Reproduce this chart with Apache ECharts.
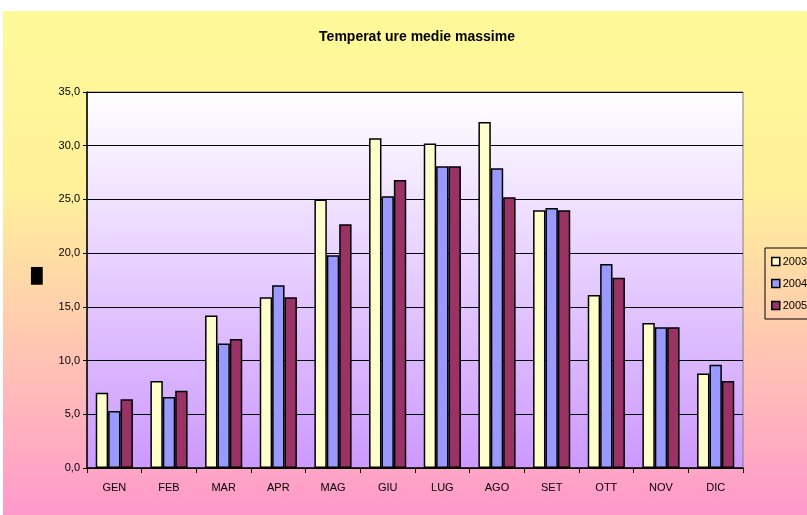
<!DOCTYPE html>
<html>
<head>
<meta charset="utf-8">
<script src="https://cdn.jsdelivr.net/npm/echarts@6/dist/echarts.min.js"></script>
<style>
  html, body { margin: 0; padding: 0; background: #fff; }
  #chart { width: 807px; height: 515px; }
</style>
</head>
<body>
<div id="chart"></div>
<script>
// mesi
const months = ['GEN', 'FEB', 'MAR', 'APR', 'MAG', 'GIU', 'LUG', 'AGO', 'SET', 'OTT', 'NOV', 'DIC'];
// temperature medie massime per anno
const t2003 = [7.0, 8.1, 14.2, 15.9, 25.0, 30.7, 30.2, 32.2, 24.0, 16.1, 13.5, 8.8];
const t2004 = [5.3, 6.6, 11.6, 17.0, 19.8, 25.3, 28.1, 27.9, 24.2, 19.0, 13.1, 9.6];
const t2005 = [6.4, 7.2, 12.0, 15.9, 22.7, 26.8, 28.1, 25.2, 24.0, 17.7, 13.1, 8.1];
const years = ['2003', '2004', '2005'];
const colors = ['#FFFFCC', '#9999FF', '#993366'];

const chart = echarts.init(document.getElementById('chart'));

const makeSeries = (name, data, color) => ({
  name: name,
  type: 'bar',
  data: data,
  barGap: '0%',
  barCategoryGap: '32%',
  itemStyle: { color: color, borderColor: '#000', borderWidth: 1.5 },
  emphasis: { disabled: true }
});

chart.setOption({
  animation: false,
  graphic: [
    {
      type: 'rect',
      z: -10,
      shape: { x: 3, y: 11, width: 804, height: 504 },
      style: {
        fill: new echarts.graphic.LinearGradient(0, 0, 0, 1, [
          { offset: 0, color: '#FFFA99' },
          { offset: 0.35, color: '#FFF199' },
          { offset: 1, color: '#FF99CC' }
        ])
      }
    },
    {
      type: 'text',
      left: 31,
      top: 270,
      style: { text: '█', fontSize: 15, fill: '#000', fontFamily: 'DejaVu Sans' }
    }
  ],
  title: {
    text: 'Temperat ure medie massime',
    left: 412,
    textAlign: 'center',
    top: 25,
    textStyle: { fontFamily: 'Liberation Sans', fontSize: 14, fontWeight: 'bold', color: '#000' }
  },
  legend: {
    data: years,
    orient: 'vertical',
    left: 765,
    top: 248,
    itemWidth: 8,
    itemHeight: 8,
    itemGap: 11,
    padding: [8, 10, 8, 6],
    borderColor: '#000',
    borderWidth: 1,
    icon: 'rect',
    textStyle: { fontFamily: 'Liberation Sans', fontSize: 11, color: '#000', padding: [0, 0, 0, -2] },
    itemStyle: { borderColor: '#000', borderWidth: 1.5 }
  },
  grid: {
    left: 87,
    right: 64,
    top: 92,
    bottom: 47,
    show: true,
    borderColor: '#808080',
    borderWidth: 1,
    backgroundColor: new echarts.graphic.LinearGradient(0, 0, 0, 1, [
      { offset: 0, color: '#FFFFFF' },
      { offset: 1, color: '#CC99FF' }
    ])
  },
  xAxis: {
    type: 'category',
    data: months,
    axisLine: { lineStyle: { color: '#000', width: 1.5 } },
    axisTick: { show: true, length: 5, lineStyle: { color: '#000' } },
    axisLabel: { margin: 14, fontFamily: 'Liberation Sans', fontSize: 11, color: '#000' }
  },
  yAxis: {
    type: 'value',
    min: 0,
    max: 35,
    interval: 5,
    axisLine: { show: true, lineStyle: { color: '#000', width: 1.5 } },
    axisTick: { show: true, length: 4, lineStyle: { color: '#000' } },
    axisLabel: {
      margin: 7,
      fontFamily: 'Liberation Sans',
      fontSize: 11,
      color: '#000',
      formatter: v => v.toFixed(1).replace('.', ',')
    },
    splitLine: { lineStyle: { color: '#000', width: 1 } }
  },
  series: [
    makeSeries(years[0], t2003, colors[0]),
    makeSeries(years[1], t2004, colors[1]),
    makeSeries(years[2], t2005, colors[2])
  ]
});
</script>
</body>
</html>
